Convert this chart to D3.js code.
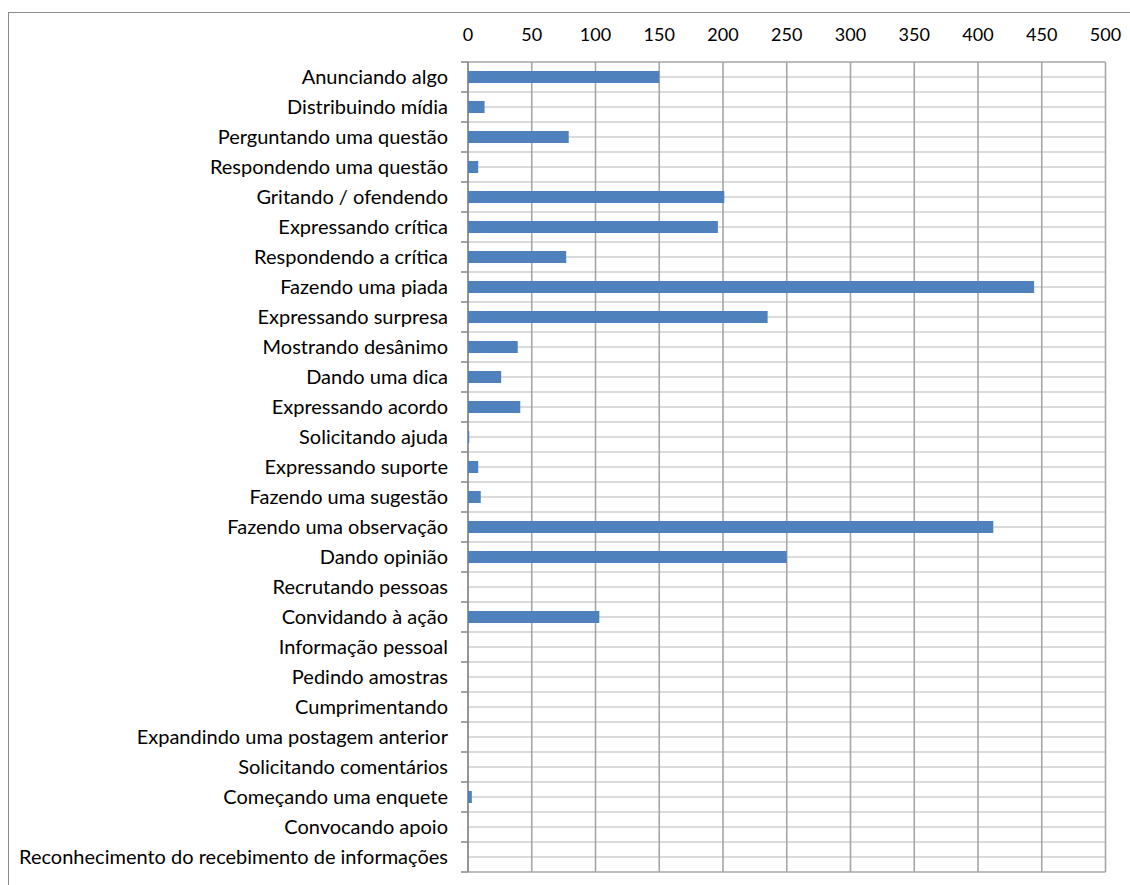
<!DOCTYPE html>
<html>
<head>
<meta charset="utf-8">
<script src="https://cdn.jsdelivr.net/npm/d3@7"></script>
<style>
  html, body { margin: 0; padding: 0; background: #fff; }
  svg { display: block; }
  .lbl { font-family: Lato, "Open Sans", sans-serif; font-size: 18px; fill: #000; }
  .cat { font-size: 20px; }
</style>
</head>
<body>
<svg id="chart" width="1130" height="885"></svg>
<script>
// categories, top to bottom
const categories = [
    'Anunciando algo',
    'Distribuindo mídia',
    'Perguntando uma questão',
    'Respondendo uma questão',
    'Gritando / ofendendo',
    'Expressando crítica',
    'Respondendo a crítica',
    'Fazendo uma piada',
    'Expressando surpresa',
    'Mostrando desânimo',
    'Dando uma dica',
    'Expressando acordo',
    'Solicitando ajuda',
    'Expressando suporte',
    'Fazendo uma sugestão',
    'Fazendo uma observação',
    'Dando opinião',
    'Recrutando pessoas',
    'Convidando à ação',
    'Informação pessoal',
    'Pedindo amostras',
    'Cumprimentando',
    'Expandindo uma postagem anterior',
    'Solicitando comentários',
    'Começando uma enquete',
    'Convocando apoio',
    'Reconhecimento do recebimento de informações'
];

const counts = [150, 13, 79, 8, 201, 196, 77, 444, 235, 39, 26, 41, 1, 8, 10, 412, 250, 0, 103, 0, 0, 0, 0, 0, 3, 0, 0];

const xTicks = [0, 50, 100, 150, 200, 250, 300, 350, 400, 450, 500];

const margin = {top: 62, left: 468, right: 24.5, bottom: 13};
const W = 1130, H = 885;

const svg = d3.select('#chart');

// outer chart frame (runs off the right and bottom edges like the source)
svg.append('rect')
    .attr('x', 8.5).attr('y', 12.5)
    .attr('width', W + 10).attr('height', H + 10)
    .attr('fill', 'none')
    .attr('stroke', '#8c8c8c')
    .attr('stroke-width', 1);

const x = d3.scaleLinear()
    .domain([0, 500])
    .range([margin.left, W - margin.right]);

const y = d3.scaleBand()
    .domain(categories)
    .range([margin.top, H - margin.bottom])
    .paddingInner(0.6)
    .paddingOuter(0.3);

// plain bands, for the grid rows
const yRow = d3.scaleBand()
    .domain(categories)
    .range([margin.top, H - margin.bottom]);

const grid = svg.append('g');

// horizontal lines: row edges and row centres
const hLines = [];
categories.forEach(c => {
    hLines.push(yRow(c));
    hLines.push(yRow(c) + yRow.bandwidth() / 2);
});
hLines.push(yRow.range()[1]);

grid.selectAll('.h')
    .data(hLines)
    .enter()
    .append('line')
        .attr('class', 'h')
        .attr('x1', x(0)).attr('x2', x(500))
        .attr('y1', d => d).attr('y2', d => d)
        .attr('stroke', (d, i) => (i == 0 || i == hLines.length - 1) ? '#a6a6a6' : '#cfcfcf')
        .attr('stroke-width', 1.6);

// vertical gridlines
grid.selectAll('.v')
    .data(xTicks)
    .enter()
    .append('line')
        .attr('class', 'v')
        .attr('x1', d => x(d)).attr('x2', d => x(d))
        .attr('y1', margin.top).attr('y2', H - margin.bottom)
        .attr('stroke', '#a6a6a6')
        .attr('stroke-width', 1.6);

// top value axis, labels only
svg.append('g')
    .selectAll('text')
    .data(xTicks)
    .enter()
    .append('text')
        .attr('class', 'lbl')
        .attr('x', d => x(d))
        .attr('y', margin.top - 21)
        .attr('text-anchor', 'middle')
        .text(d => d);

// category axis line + tick marks between rows
const cat = svg.append('g');
cat.append('line')
    .attr('x1', x(0)).attr('x2', x(0))
    .attr('y1', margin.top).attr('y2', H - margin.bottom)
    .attr('stroke', '#8c8c8c')
    .attr('stroke-width', 1.6);

cat.selectAll('.tick')
    .data(categories.map(c => yRow(c)).concat([yRow.range()[1]]))
    .enter()
    .append('line')
        .attr('x1', x(0) - 7).attr('x2', x(0))
        .attr('y1', d => d).attr('y2', d => d)
        .attr('stroke', '#8c8c8c')
        .attr('stroke-width', 1.6);

cat.selectAll('text')
    .data(categories)
    .enter()
    .append('text')
        .attr('class', 'lbl cat')
        .attr('x', x(0) - 20)
        .attr('y', d => yRow(d) + yRow.bandwidth() / 2)
        .attr('dy', '0.36em')
        .attr('text-anchor', 'end')
        .text(d => d);

// bars
svg.append('g')
    .selectAll('rect')
    .data(categories.map((c, i) => ({key: c, value: counts[i]})))
    .enter()
    .append('rect')
        .attr('x', x(0))
        .attr('y', d => y(d.key))
        .attr('width', d => x(d.value) - x(0))
        .attr('height', y.bandwidth())
        .style('fill', '#4f81bd');
</script>
</body>
</html>
